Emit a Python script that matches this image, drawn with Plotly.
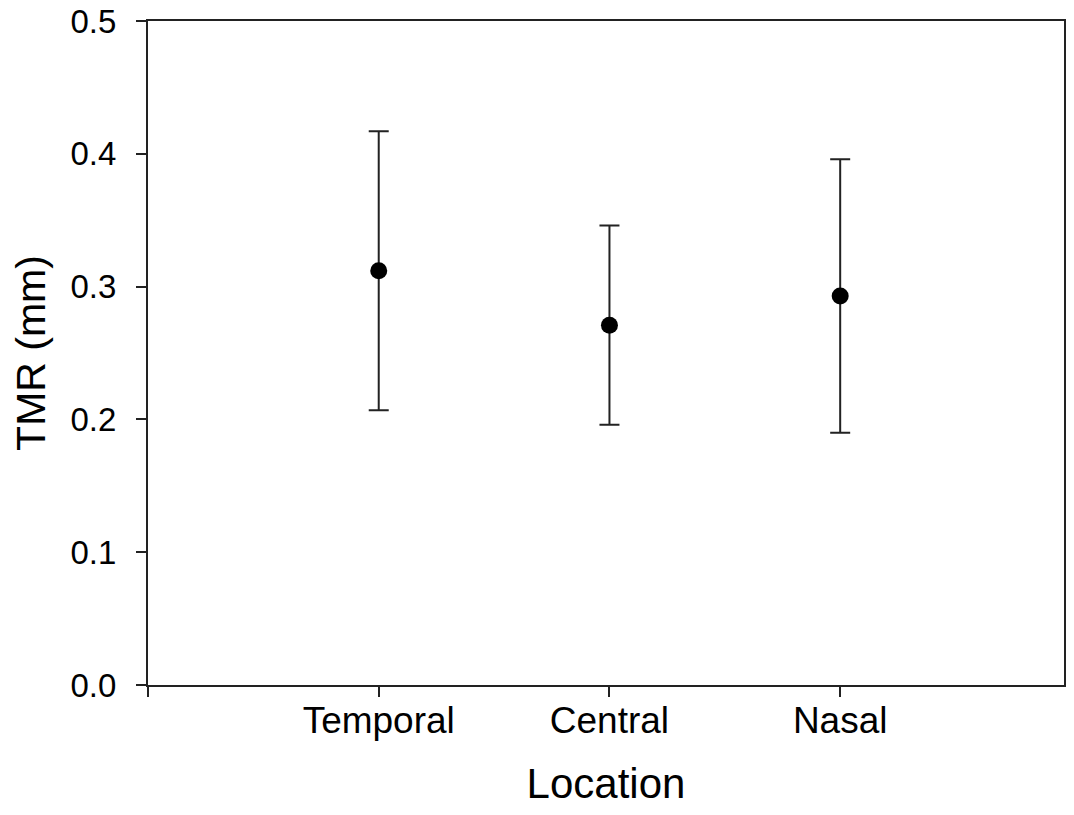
import plotly.graph_objects as go

categories = ["Temporal", "Central", "Nasal"]
positions = [1, 2, 3]
means = [0.312, 0.271, 0.293]
errors = [0.105, 0.075, 0.103]
y_ticks = [0.0, 0.1, 0.2, 0.3, 0.4, 0.5]
y_tick_labels = ["0.0", "0.1", "0.2", "0.3", "0.4", "0.5"]

font_family = "Liberation Sans, Arial, sans-serif"

fig = go.Figure()
fig.add_trace(go.Scatter(
    x=positions,
    y=means,
    mode="markers",
    marker=dict(color="black", size=17),
    error_y=dict(type="data", array=errors, visible=True,
                 color="#222222", thickness=2, width=10),
    showlegend=False,
))

fig.update_layout(
    width=1058,
    height=799,
    margin=dict(l=140, r=2, t=13, b=122, autoexpand=False),
    paper_bgcolor="white",
    plot_bgcolor="white",
    font=dict(family=font_family, color="black"),
    xaxis=dict(
        range=[0, 3.97],
        tickmode="array",
        tickvals=[0] + positions + [4],
        ticktext=[""] + categories + [""],
        ticks="outside",
        ticklen=10,
        tickwidth=1.5,
        tickcolor="#222222",
        ticklabelstandoff=-8,
        showline=True,
        linecolor="#222222",
        linewidth=2,
        mirror=True,
        showgrid=False,
        zeroline=False,
        automargin=False,
        tickfont=dict(size=37, family=font_family, color="black"),
        title=dict(text="Location", font=dict(size=42, family=font_family, color="black"), standoff=44),
    ),
    yaxis=dict(
        range=[0, 0.5001],
        tickmode="array",
        tickvals=y_ticks,
        ticktext=y_tick_labels,
        ticks="outside",
        ticklen=10,
        tickwidth=1.5,
        tickcolor="#222222",
        ticklabelstandoff=13,
        ticklabeloverflow="allow",
        showline=True,
        linecolor="#222222",
        linewidth=2,
        mirror=True,
        showgrid=False,
        zeroline=False,
        automargin=False,
        tickfont=dict(size=33, family=font_family, color="black"),
        title=dict(text="TMR (mm)", font=dict(size=41, family=font_family, color="black"), standoff=31),
    ),
)

fig.write_html("out.html")
